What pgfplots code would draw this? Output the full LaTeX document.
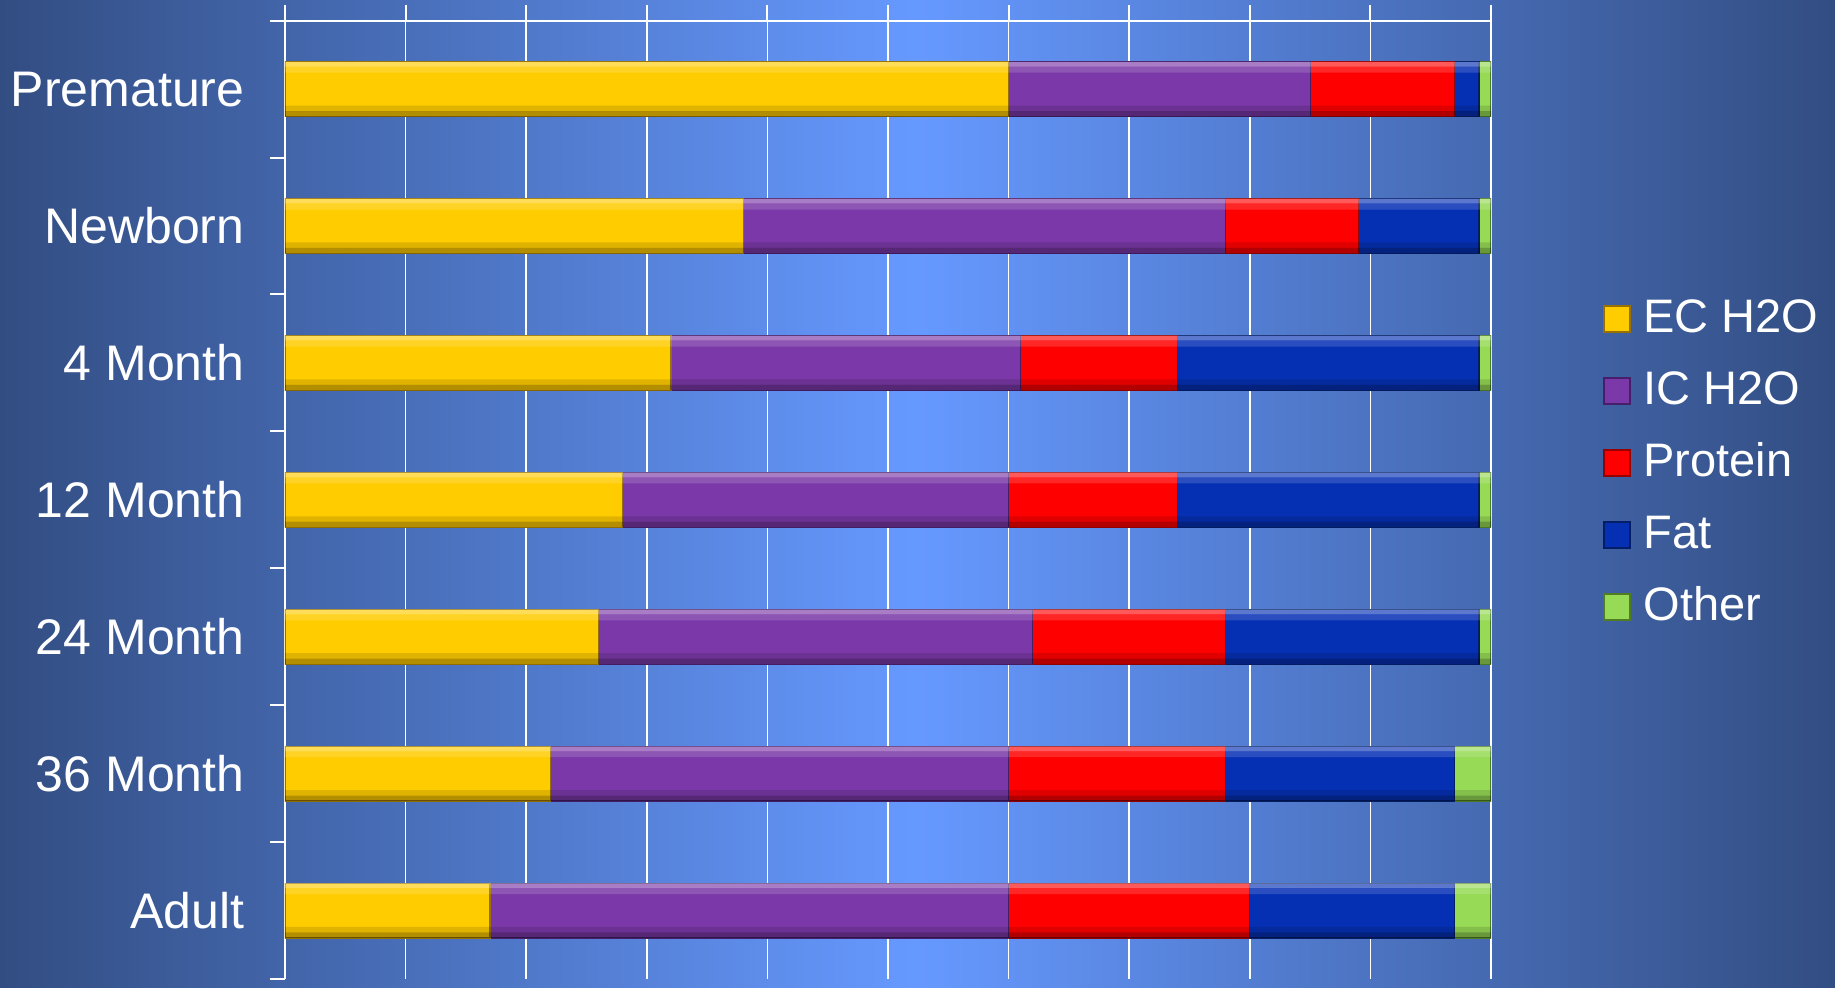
\documentclass[border=0pt]{standalone}
\usepackage{pgfplots}
\pgfplotsset{compat=1.18}
\usepackage{fontspec}
\setmainfont{Liberation Sans}
\definecolor{bgD}{RGB}{50,77,130}
\definecolor{bgL}{RGB}{102,153,255}
\definecolor{ecM}{RGB}{255,204,0}
\definecolor{ecD}{RGB}{150,112,0}
\definecolor{icM}{RGB}{122,56,168}
\definecolor{icD}{RGB}{70,30,105}
\definecolor{prM}{RGB}{255,0,0}
\definecolor{prD}{RGB}{150,0,0}
\definecolor{faM}{RGB}{5,48,180}
\definecolor{faD}{RGB}{2,30,105}
\definecolor{otM}{RGB}{150,218,85}
\definecolor{otD}{RGB}{80,125,35}
\pgfplotsset{sqlegend/.style={legend image code/.code={\draw[##1] (0pt,-6.5pt) rectangle (13pt,6.5pt);}}}
\begin{document}
\begin{tikzpicture}
\useasboundingbox (0,0) rectangle (917.5pt,494pt);
\shade[left color=bgD, right color=bgD, middle color=bgL] (0,0) rectangle (917.5pt,494pt);
\begin{axis}[
  at={(142.5pt,4.5pt)}, anchor=south west,
  scale only axis, width=603pt, height=479.15pt,
  xbar stacked, bar width=0.4,
  xmin=0, xmax=100, ymin=-0.5, ymax=6.5,
  axis x line*=top, axis y line*=left,
  axis line style={white, line width=1pt},
  xtick={0,10,...,100}, xticklabels={},
  xmajorgrids, grid style={white, line width=0.8pt},
  tick align=outside, major tick length=8pt, minor tick length=7.5pt,
  tick style={white, line width=1pt},
  major y tick style={draw=none},
  ytick={0,...,6},
  yticklabels={Adult,36 Month,24 Month,12 Month,4 Month,Newborn,Premature},
  minor ytick={-0.5,0.5,...,6.5},
  yticklabel style={font=\fontsize{25}{30}\selectfont, text=white, inner sep=0pt, xshift=-12.1pt},
  legend style={at={(1,0.5)}, anchor=west, xshift=56pt, yshift=18.4pt,
    draw=none, fill=none, inner sep=0pt, row sep=14pt, column sep=6.5pt,
    font=\fontsize{23.5}{28}\selectfont, text=white,
    nodes={inner sep=0pt, text height=17.5pt, text depth=4.5pt}},
  legend cell align=left,
]
\addplot[sqlegend, fill=ecM, draw=ecD, line width=0.6pt] coordinates {(60,6) (38,5) (32,4) (28,3) (26,2) (22,1) (17,0)};
\addplot[sqlegend, fill=icM, draw=icD, line width=0.6pt] coordinates {(25,6) (40,5) (29,4) (32,3) (36,2) (38,1) (43,0)};
\addplot[sqlegend, fill=prM, draw=prD, line width=0.6pt] coordinates {(12,6) (11,5) (13,4) (14,3) (16,2) (18,1) (20,0)};
\addplot[sqlegend, fill=faM, draw=faD, line width=0.6pt] coordinates {(2,6) (10,5) (25,4) (25,3) (21,2) (19,1) (17,0)};
\addplot[sqlegend, fill=otM, draw=otD, line width=0.6pt] coordinates {(1,6) (1,5) (1,4) (1,3) (1,2) (3,1) (3,0)};
\legend{EC H2O, IC H2O, Protein, Fat, Other}
\end{axis}
% bevel highlights and shadows over the full bars (totals = 100)
\begin{axis}[
  at={(142.5pt,4.5pt)}, anchor=south west,
  scale only axis, width=603pt, height=479.15pt,
  xmin=0, xmax=100, ymin=-0.5, ymax=6.5, hide axis, xbar,
]
\addplot[fill=white, fill opacity=0.35, draw=none, bar width=0.035, bar shift=0.1825] coordinates {(100,6) (100,5) (100,4) (100,3) (100,2) (100,1) (100,0)};
\addplot[fill=white, fill opacity=0.15, draw=none, bar width=0.045, bar shift=0.1425] coordinates {(100,6) (100,5) (100,4) (100,3) (100,2) (100,1) (100,0)};
\addplot[fill=black, fill opacity=0.3, draw=none, bar width=0.04, bar shift=-0.18] coordinates {(100,6) (100,5) (100,4) (100,3) (100,2) (100,1) (100,0)};
\addplot[fill=black, fill opacity=0.12, draw=none, bar width=0.04, bar shift=-0.14] coordinates {(100,6) (100,5) (100,4) (100,3) (100,2) (100,1) (100,0)};
\end{axis}
\end{tikzpicture}
\end{document}
